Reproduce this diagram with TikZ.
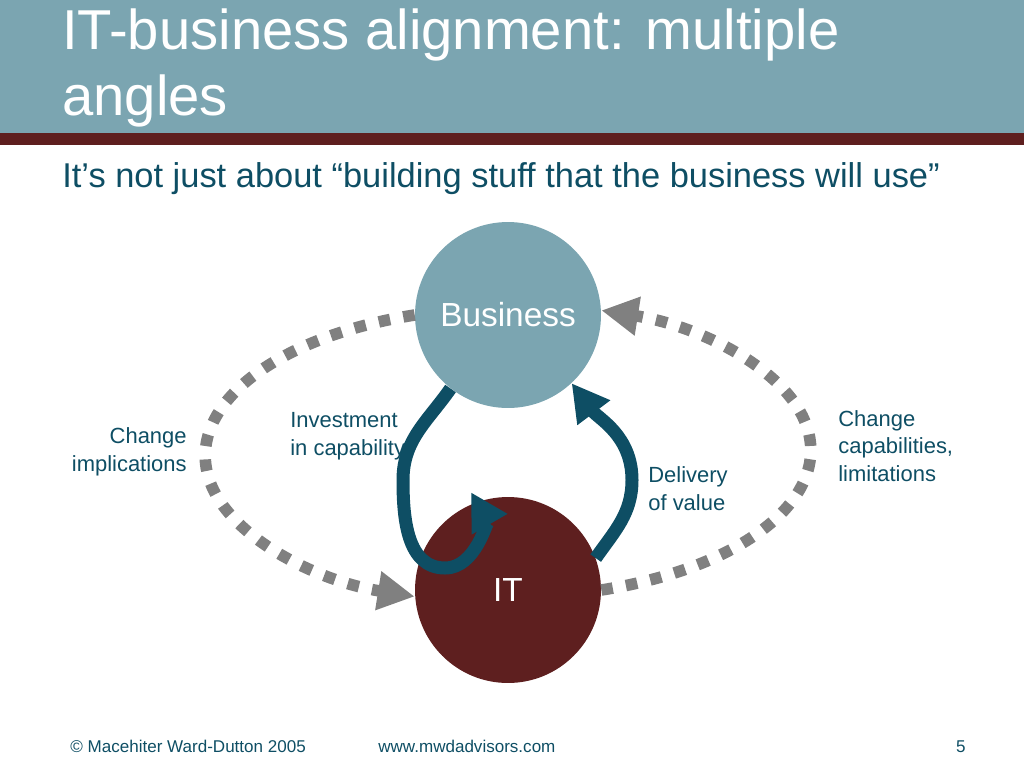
\documentclass[tikz,border=0pt]{standalone}
\usepackage{fontspec}
\setmainfont{Liberation Sans}
\usetikzlibrary{arrows.meta}
\definecolor{band}{RGB}{123,165,177}
\definecolor{maroon}{RGB}{94,31,31}
\definecolor{ink}{RGB}{14,78,100}
\definecolor{dots}{RGB}{128,128,128}

\begin{document}
\begin{tikzpicture}[x=0.02cm, y=-0.02cm,
	circ/.style={circle, minimum size=3.72cm, inner sep=0pt, text=white, font=\fontsize{19}{22}\selectfont},
	lbl/.style={inner sep=0pt, text=ink, font=\fontsize{12.5}{15.4}\selectfont},
	foot/.style={inner sep=0pt, text=ink, font=\fontsize{9.7}{12}\selectfont},
	loopline/.style={draw=dots, line width=6.6pt, dash pattern=on 6.6pt off 7.6pt, -{Triangle[length=21pt, width=21pt]}},
	flow/.style={draw=ink, line width=7.4pt, -{Triangle[length=21pt, width=22pt]}}]
		\useasboundingbox (0,0) rectangle (1024,768);
		\fill[band] (0,0) rectangle (1024,133);
		\fill[maroon] (0,133) rectangle (1024,145); % Bar under the title.

		\node[inner sep=0pt, text=white, anchor=base west, align=left, font=\fontsize{32}{37}\selectfont] (title) at (62,115) {IT-business alignment: multiple\\angles};
		\node[inner sep=0pt, text=ink, anchor=base west, font=\fontsize{19.6}{23}\selectfont] (subtitle) at (62,187) {It’s not just about “building stuff that the business will use”};

		\node[circ, fill=band] (business) at (508,315) {Business};
		\node[circ, fill=maroon] (it) at (508,590) {IT};

		\draw[loopline] (business.west) arc[start angle=252, end angle=108, x radius=303, y radius=148]; % Left loop.
		\draw[loopline] (it.east) arc[start angle=72, end angle=-72, x radius=303, y radius=147]; % Right loop.

		\draw[flow] (business.232) to[out=-125, in=90] (403,480) to[out=-90, in=180] (445,568) to[out=0, in=-60] ([shift={(-5,-10)}]it.110);
		\draw[flow] (it.20) to[out=55, in=-90] (632,480) to[out=90, in=-53] (business.-47);

		\node[lbl, anchor=base west, align=left] (invest) at (290,455) {Investment\\in capability};
		\node[lbl, anchor=base west, align=left] (deliver) at (648,510) {Delivery\\of value};
		\node[lbl, anchor=base east, align=right] (implic) at (187,471) {Change\\implications};
		\node[lbl, anchor=base west, align=left] (capab) at (838,481) {Change\\capabilities,\\limitations};

		\node[foot, anchor=base west] (copy) at (70,752) {© Macehiter Ward-Dutton 2005};
		\node[foot, anchor=base west] (web) at (378,752) {www.mwdadvisors.com};
		\node[foot, anchor=base east] (page) at (966,752) {5};
	\end{tikzpicture}
\end{document}
